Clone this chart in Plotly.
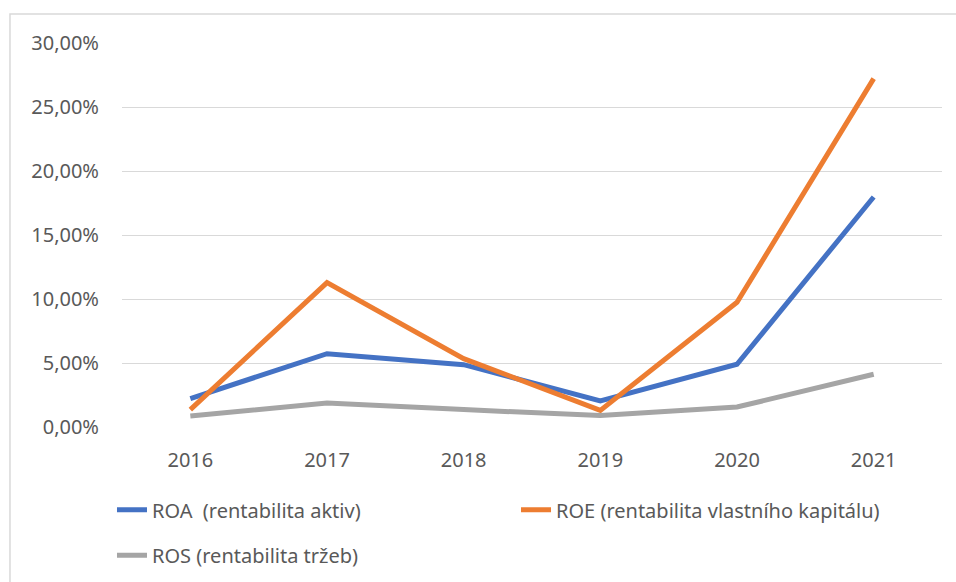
import plotly.graph_objects as go

years = ["2016", "2017", "2018", "2019", "2020", "2021"]
roa = [0.0222, 0.0573, 0.0487, 0.0203, 0.0490, 0.1797]
roe = [0.0136, 0.1128, 0.0534, 0.0130, 0.0974, 0.2722]
ros = [0.0086, 0.0188, 0.0136, 0.0089, 0.0156, 0.0412]

names = ["ROA\u00a0\u00a0(rentabilita aktiv)",
         "ROE (rentabilita vlastního kapitálu)",
         "ROS (rentabilita tržeb)"]
colors = ["#4472C4", "#ED7D31", "#A5A5A5"]
legends = ["legend", "legend2", "legend3"]

fig = go.Figure()
for vals, name, col, lg in zip([roa, roe, ros], names, colors, legends):
    fig.add_trace(go.Scatter(x=years, y=vals, name=name, mode="lines", legend=lg,
                             line=dict(color=col, width=5)))

font = dict(family="Noto Sans", size=20, color="#595959")
legfont = dict(family="Noto Sans", size=20, color="#595959")

def leg(x, y):
    return dict(orientation="h", x=x, xanchor="left", y=y, yanchor="middle",
                yref="container", font=legfont, itemwidth=30, bgcolor="rgba(0,0,0,0)")

fig.update_layout(
    width=956, height=582,
    margin=dict(l=122, r=14, t=43, b=155, autoexpand=False),
    paper_bgcolor="white", plot_bgcolor="white",
    separators=", ",
    font=font,
    showlegend=True,
    legend=leg(-0.0122, 0.124),
    legend2=leg(0.4805, 0.124),
    legend3=leg(-0.0122, 0.046),
    xaxis=dict(type="category", range=[-0.5, 5.5], showgrid=False, zeroline=False,
               showline=False, ticks="", ticklabelstandoff=19, tickfont=font),
    yaxis=dict(range=[0, 0.30], tickvals=[0, 0.05, 0.10, 0.15, 0.20, 0.25, 0.30],
               tickformat=".2%", showgrid=True, gridcolor="#D9D9D9", gridwidth=1,
               zeroline=False, showline=False, ticks="", ticklabelstandoff=22, tickfont=font),
    shapes=[dict(type="rect", xref="paper", yref="paper",
                 x0=-0.1366, x1=1.2, y0=-0.6, y1=1.0755,
                 line=dict(color="#D9D9D9", width=1.5), fillcolor="rgba(0,0,0,0)", layer="below")],
)

fig.write_html("out.html", config={"displayModeBar": False},
               post_script="document.body.style.margin='0';document.body.style.overflow='hidden';")
